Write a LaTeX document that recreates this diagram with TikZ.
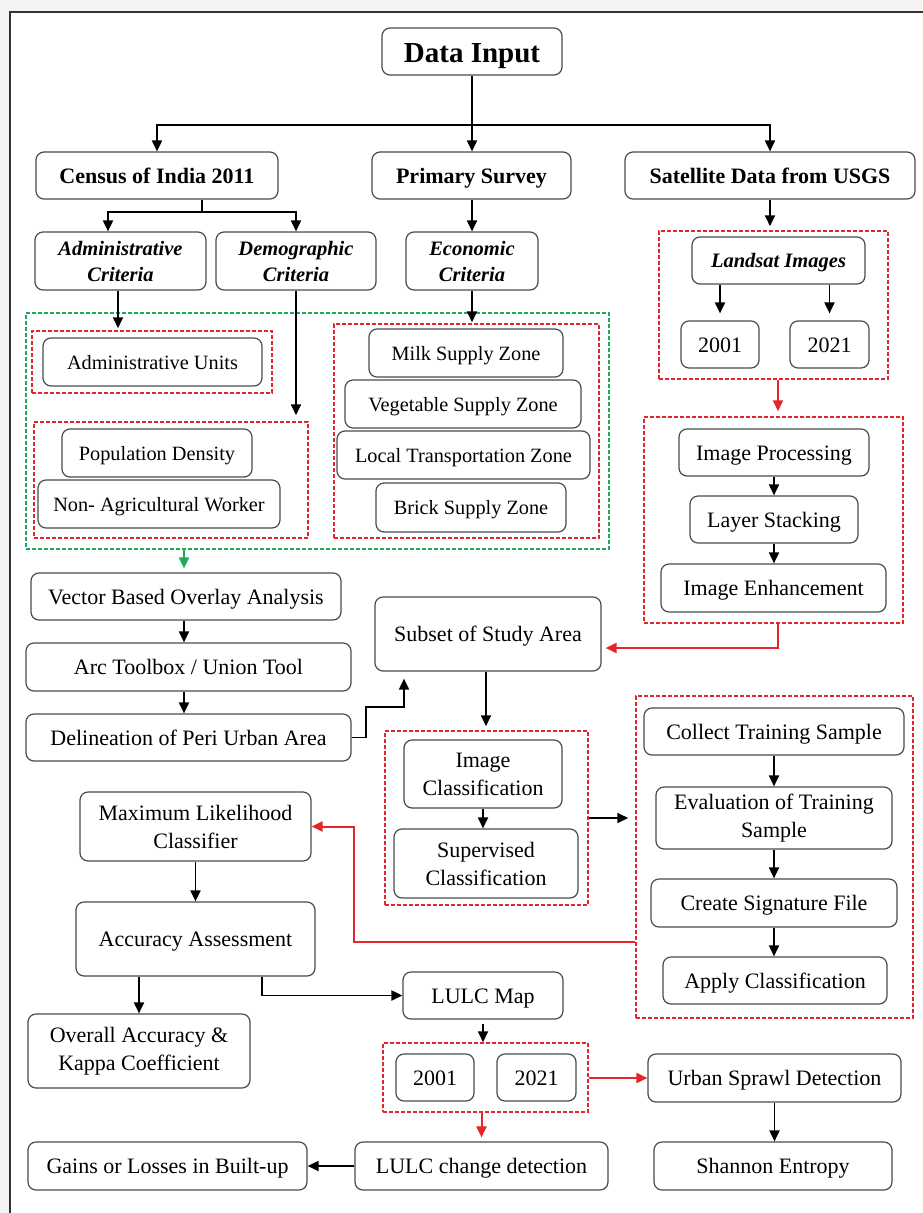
\documentclass[tikz,border=0pt]{standalone}
\usepackage{fontspec}
\setmainfont{Liberation Serif}
\usetikzlibrary{arrows.meta,calc}
\definecolor{rd}{RGB}{226,38,44}
\definecolor{gr}{RGB}{30,170,90}
\definecolor{bord}{RGB}{75,75,75}
\definecolor{bgc}{RGB}{243,243,243}
% single-line box
\newcommand\bx[7][]{\node[bx,one,#1,minimum width={#5pt-#3pt},minimum height={#6pt-#4pt}] (#2) at ({(#3+#5)/2},{(#4+#6)/2}) {#7};}
% two-line box
\newcommand\bxt[7][]{\node[bx,#1,minimum width={#5pt-#3pt},minimum height={#6pt-#4pt}] (#2) at ({(#3+#5)/2},{(#4+#6)/2}) {#7};}
\newcommand\dbx[6]{\node[#2,minimum width={#5pt-#3pt},minimum height={#6pt-#4pt}] (#1) at ({(#3+#5)/2},{(#4+#6)/2}) {};}
\begin{document}
\begin{tikzpicture}[x=1pt,y=-1pt,
  bx/.style={draw=bord, line width=1.2pt, rounded corners=8pt, inner sep=0pt, align=center, font=\fontsize{22}{28}\selectfont},
  one/.style={text height=22pt, text depth=6.4pt},
  sm/.style={font=\fontsize{20.3}{26}\selectfont, text height=20pt, text depth=5.4pt},
  bi/.style={font=\fontsize{20.5}{26}\selectfont\bfseries\itshape},
  bf/.style={font=\fontsize{22}{28}\selectfont\bfseries},
  big/.style={font=\fontsize{29}{34}\selectfont\bfseries, text height=29pt, text depth=8pt},
  rdash/.style={draw=rd, line width=1.5pt, dash pattern=on 4pt off 2pt, inner sep=0pt},
  gdash/.style={draw=gr, line width=1.5pt, dash pattern=on 4pt off 2pt, inner sep=0pt},
  ln/.style={line width=1.9pt},
  arr/.style={line width=1.9pt, -{Triangle[length=11pt,width=10pt]}},
  rarr/.style={arr, draw=rd, line width=2pt},
  garr/.style={arr, draw=gr}
]
\useasboundingbox (0,0) rectangle (922,1213);
\fill[bgc] (0,0) rectangle (922,1213);
\fill[white] (10,12) rectangle (922,1213);
\draw[line width=2pt, black!80] (925,12) -- (10,12) -- (10,1216);

% dashed groups
\dbx{landbox}{rdash}{659}{231}{888}{379}
\dbx{procbox}{rdash}{644}{417}{903}{623}
\dbx{gbox}{gdash}{26}{313}{609}{549}
\dbx{admbox}{rdash}{32}{331}{272}{393}
\dbx{demobox}{rdash}{34}{422}{308}{538}
\dbx{econbox}{rdash}{334}{324}{599}{538}
\dbx{icbox}{rdash}{385}{731}{588}{905}
\dbx{trbox}{rdash}{636}{696}{913}{1018}
\dbx{lbox}{rdash}{383}{1043}{588}{1112}

% boxes
\bx[big]{din}{382}{28}{562}{75}{Data Input}
\bx[bf]{census}{36}{152}{278}{199}{Census of India 2011}
\bx[bf]{prim}{372}{152}{571}{199}{Primary Survey}
\bx[bf]{sat}{625}{152}{915}{199}{Satellite Data from USGS}
\bxt[bi]{admc}{35}{232}{206}{290}{Administrative\\Criteria}
\bxt[bi]{demc}{216}{232}{376}{290}{Demographic\\Criteria}
\bxt[bi]{econ}{406}{232}{538}{290}{Economic\\Criteria}
\bx[bi, text height=20pt, text depth=6pt]{land}{692}{237}{865}{284}{Landsat Images}
\bx{y01}{681}{321}{759}{368}{2001}
\bx{y21}{790}{321}{869}{368}{2021}
\bx{iproc}{679}{429}{869}{476}{Image Processing}
\bx{lstack}{690}{496}{858}{543}{Layer Stacking}
\bx{ienh}{661}{564}{886}{612}{Image Enhancement}
\bx[sm]{admu}{43}{338}{262}{386}{Administrative Units}
\bx[sm]{popd}{62}{429}{252}{477}{Population Density}
\bx[sm]{nonag}{38}{480}{280}{528}{Non- Agricultural Worker}
\bx[sm]{milk}{369}{329}{563}{377}{Milk Supply Zone}
\bx[sm]{veg}{345}{380}{581}{428}{Vegetable Supply Zone}
\bx[sm]{local}{337}{431}{590}{479}{Local Transportation Zone}
\bx[sm]{brick}{376}{483}{566}{532}{Brick Supply Zone}
\bx{vec}{31}{573}{341}{620}{Vector Based Overlay Analysis}
\bx{arc}{26}{643}{351}{691}{Arc Toolbox / Union Tool}
\bx{del}{26}{714}{351}{761}{Delineation of Peri Urban Area}
\bx{subset}{375}{597}{601}{671}{Subset of Study Area}
\bxt{icl}{404}{740}{562}{808}{Image\\Classification}
\bxt{sup}{394}{829}{578}{898}{Supervised\\Classification}
\bx{coll}{644}{708}{904}{755}{Collect Training Sample}
\bxt{evalb}{656}{787}{892}{849}{Evaluation of Training\\Sample}
\bx{sig}{651}{879}{897}{927}{Create Signature File}
\bx{apply}{663}{957}{887}{1004}{Apply Classification}
\bxt{ml}{80}{792}{311}{861}{Maximum Likelihood\\Classifier}
\bx{acc}{76}{902}{315}{976}{Accuracy Assessment}
\bxt{ov}{28}{1014}{250}{1088}{Overall Accuracy \&\\Kappa Coefficient}
\bx{map}{403}{972}{563}{1019}{LULC Map}
\bx{m01}{396}{1054}{474}{1101}{2001}
\bx{m21}{497}{1054}{576}{1101}{2021}
\bx{urban}{648}{1054}{901}{1102}{Urban Sprawl Detection}
\bx{shan}{654}{1142}{892}{1190}{Shannon Entropy}
\bx{chg}{355}{1142}{608}{1190}{LULC change detection}
\bx{gains}{28}{1142}{307}{1190}{Gains or Losses in Built-up}

% connectors
\coordinate (j1) at (472,125);
\draw[ln] (din.south) -- (j1);
\draw[arr] (j1) -| (census.north);
\draw[arr] (j1) -- (prim.north -| j1);
\draw[arr] (j1) -| (sat.north);
\coordinate (j2) at (202,212);
\coordinate (a1) at (108,0);
\draw[ln] (census.south -| j2) -- (j2);
\draw[arr] (j2) -| (admc.north -| a1);
\draw[arr] (j2) -| (demc.north);
\draw[arr] (prim.south -| j1) -- (econ.north -| j1);
\draw[arr, shorten >=4pt] (sat.south) -- (sat.south |- landbox.north);
\draw[arr, shorten >=7pt] (land.south -| y01) -- (y01.north);
\draw[arr, shorten >=7pt] (land.south -| y21) -- (y21.north);
\coordinate (r0) at (778,648);
\draw[rarr, shorten >=5pt] (landbox.south -| r0) -- (procbox.north -| r0);
\draw[arr] (iproc.south -| lstack.north) -- (lstack.north);
\draw[arr] (lstack.south) -- (lstack.south |- ienh.north);
\coordinate (ax) at (118,0);
\draw[arr, shorten >=2pt] (admc.south -| ax) -- (admbox.north -| ax);
\draw[arr, shorten >=6pt] (demc.south) -- (demc.south |- demobox.north);
\draw[arr, shorten >=1pt] (econ.south) -- (econ.south |- econbox.north);
\coordinate (gx) at (184,0);
\draw[garr, shorten >=4pt] (gbox.south -| gx) -- (vec.north -| gx);
\draw[arr] (vec.south -| gx) -- (arc.north -| gx);
\draw[arr] (arc.south -| gx) -- (del.north -| gx);
\coordinate (d1) at (366,707);
\coordinate (d2) at (404,707);
\draw[arr, shorten >=7pt] (del.east) -| (d1) -- (d2) -- (subset.south -| d2);
\draw[rarr, shorten >=4pt] (procbox.south -| r0) |- (subset.east |- r0);
\coordinate (sx) at (486,0);
\draw[arr, shorten >=4pt] (subset.south -| sx) -- (icbox.north -| sx);
\draw[arr] (icl.south) -- (icl.south |- sup.north);
\coordinate (ty) at (0,818);
\draw[arr, shorten >=7pt] (icbox.east |- ty) -- (trbox.west |- ty);
\draw[arr] (coll.south) -- (coll.south |- evalb.north);
\draw[arr] (evalb.south) -- (evalb.south |- sig.north);
\draw[arr] (sig.south) -- (sig.south |- apply.north);
\coordinate (r1) at (354,942);
\draw[rarr] (trbox.west |- r1) -- (r1) |- (ml.east);
\draw[arr] (ml.south) -- (ml.south |- acc.north);
\draw[arr] (acc.south -| ov.north) -- (ov.north);
\coordinate (m0) at (262,0);
\draw[arr] (acc.south -| m0) |- (map.west);
\draw[arr, shorten <=4pt] (map.south) -- (map.south |- lbox.north);
\draw[rarr] (lbox.east |- urban.west) -- (urban.west);
\draw[arr] (urban.south) -- (urban.south |- shan.north);
\draw[rarr, shorten >=4pt] (lbox.south -| chg.north) -- (chg.north);
\draw[arr] (chg.west) -- (gains.east);
\end{tikzpicture}
\end{document}
